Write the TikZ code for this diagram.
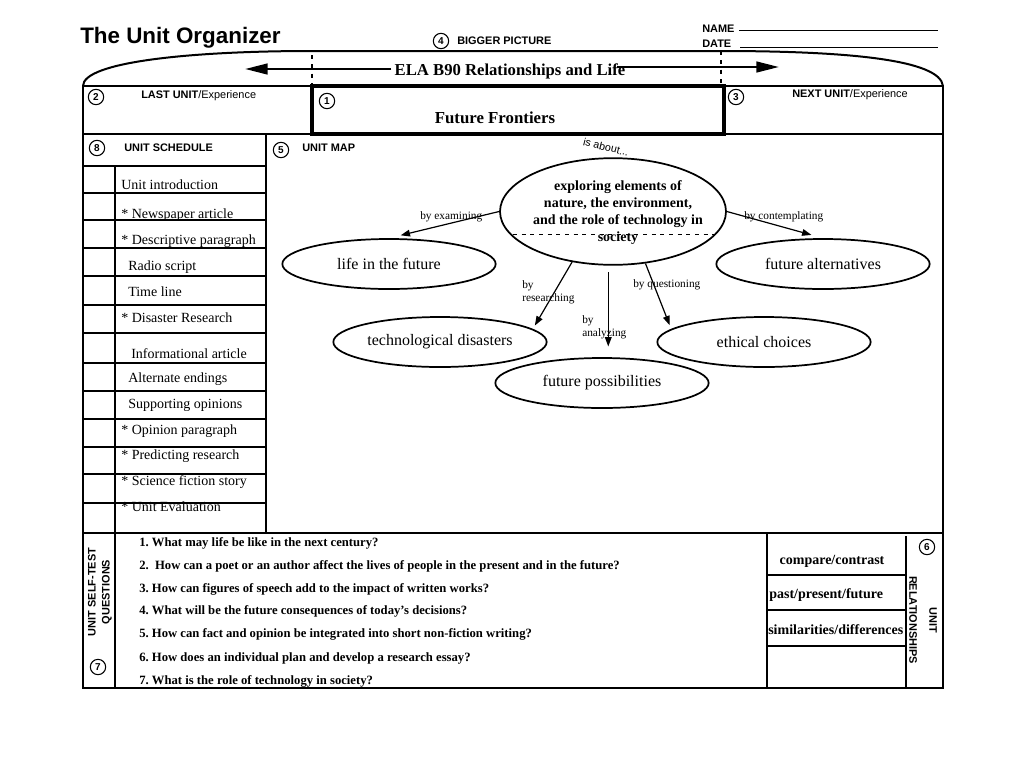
\documentclass[tikz,border=0pt]{standalone}
\usepackage{fontspec}
\setmainfont{Liberation Serif}
\setsansfont{Liberation Sans}
\usetikzlibrary{shapes.geometric,arrows.meta,positioning}
\frenchspacing

\tikzset{frame/.style={line width=1.5pt}}
\tikzset{rule/.style={line width=1.1pt}}
\tikzset{num/.style={draw, circle, line width=0.8pt, inner sep=0pt, minimum size=11.5pt, font=\sffamily\bfseries\fontsize{7.5}{8}\selectfont}}
\tikzset{head/.style={anchor=west, inner sep=0pt, font=\sffamily\bfseries\fontsize{8.2}{10}\selectfont}}
\tikzset{sched/.style={anchor=west, inner sep=0pt, font=\fontsize{10.5}{12}\selectfont}}
\tikzset{bubble/.style={draw, ellipse, line width=1.3pt, minimum width=160pt, minimum height=37.5pt, inner sep=0pt, font=\fontsize{12}{14}\selectfont}}
\tikzset{bylabel/.style={anchor=west, inner sep=0pt, align=left, font=\fontsize{8.5}{10}\selectfont}}
\tikzset{arr/.style={line width=0.9pt, -{Triangle[length=7pt,width=5pt]}}}
\tikzset{bigarr/.style={line width=1.8pt, -{Triangle[length=17pt,width=8pt]}}}
\tikzset{quest/.style={anchor=west, inner sep=0pt, font=\bfseries\fontsize{9.5}{11}\selectfont}}
\tikzset{rel/.style={inner sep=0pt, font=\bfseries\fontsize{10.5}{12}\selectfont}}

\begin{document}
\begin{tikzpicture}[x=0.75pt,y=-0.75pt]
  \useasboundingbox (0,0) rectangle (1024,768);
  % header
  \node[anchor=west, inner sep=0pt, font=\sffamily\bfseries\fontsize{16.8}{20}\selectfont] (Title) at (80,38) {The Unit Organizer};
  \node[num] (NumFour) at (441,41) {4};
  \node[head] (Bigger) at (457,41) {BIGGER PICTURE};
  \node[head] (Name) at (702,29) {NAME};
  \node[head] (Date) at (702,44) {DATE};
  \draw[line width=0.7pt] (739,30) -- (938,30);
  \draw[line width=0.7pt] (740,47) -- (938,47);

  % frame
  \draw[frame] (83,86) .. controls (83,62) and (190,51) .. (312,51) -- (720,51) .. controls (850,51) and (940,60) .. (943,86);
  \draw[frame] (83,86) rectangle (943,688);
  \draw[frame] (83,134) -- (943,134);
  \draw[frame] (266,134) -- (266,533);
  \draw[frame] (83,533) -- (943,533);
  \draw[line width=0.8pt, dash pattern=on 3pt off 4pt] (312,55) -- (312,86);
  \draw[line width=0.8pt, dash pattern=on 3pt off 4pt] (721,51) -- (721,86);
  \draw[line width=3pt] (312,86) rectangle (724,134);

  % bigger picture
  \node[inner sep=0pt, font=\bfseries\fontsize{12.5}{14}\selectfont] (Course) at (510,71) {ELA B90 Relationships and Life};
  \coordinate (LastTip) at (245,69);
  \coordinate (NextTip) at (779,67);
  \draw[bigarr] ([shift={(-3,-2)}]Course.west) -- (LastTip);
  \draw[bigarr] ([shift={(-9,-4)}]Course.east) -- (NextTip);

  \node[num] (NumTwo) at (96,97) {2};
  \node[head] (LastUnit) at (141,96) {LAST UNIT\mdseries/Experience};
  \node[num] (NumThree) at (736,97) {3};
  \node[head] (NextUnit) at (792,95) {NEXT UNIT\mdseries/Experience};
  \node[num] (NumOne) at (327,101) {1};
  \node[inner sep=0pt, font=\bfseries\fontsize{12.6}{14}\selectfont] (Current) at (495,118) {Future Frontiers};

  % schedule
  \node[num] (NumEight) at (97,148) {8};
  \node[head] (Schedule) at (124,148) {UNIT SCHEDULE};
  \foreach \y in {166,193,220,248,276,305,333,363,391,419,447,474,503}
    \draw[rule] (83,\y) -- (266,\y);
  \draw[rule] (115,166) -- (115,533);
  \node[sched] (S1) at (121,185) {Unit introduction};
  \node[sched] (S2) at (121,215) {* Newspaper article};
  \node[sched] (S3) at (121,241) {* Descriptive paragraph};
  \node[sched] (S4) at (128,267) {Radio script};
  \node[sched] (S5) at (128,292) {Time line};
  \node[sched] (S6) at (121,318) {* Disaster Research};
  \node[sched] (S7) at (131,354) {Informational article};
  \node[sched] (S8) at (128,379) {Alternate endings};
  \node[sched] (S9) at (128,405) {Supporting opinions};
  \node[sched] (S10) at (121,431) {* Opinion paragraph};
  \node[sched] (S11) at (121,456) {* Predicting research};
  \node[sched] (S12) at (121,482) {* Science fiction story};
  \node[sched] (S13) at (121,507) {* Unit Evaluation};

  % unit map
  \node[num] (NumFive) at (281,150) {5};
  \node[head] (UnitMap) at (302,148) {UNIT MAP};
  \node[rotate=-14, inner sep=0pt, font=\sffamily\fontsize{8}{9}\selectfont] (About) at (606,147) {is about...};
  \node[draw, ellipse, line width=1.3pt, minimum width=169.5pt, minimum height=80pt] (Core) at (613,211.5) {};
  \node[align=center, inner sep=0pt, font=\bfseries\fontsize{10.5}{12.75}\selectfont] (CoreText) at (618,213) {exploring elements of\\nature, the environment,\\and the role of technology in\\society};
  \draw[line width=0.7pt, dash pattern=on 3pt off 3.5pt] (513,234) -- (718,234);

  \node[bubble] (LifeFuture) at (389,264) {life in the future};
  \node[bubble] (Alternatives) at (823,264) {future alternatives};
  \node[bubble] (Disasters) at (440,342) {technological disasters};
  \node[bubble] (Ethical) at (764,342) {ethical choices};
  \node[bubble] (Possibilities) at (602,383) {future possibilities};

  \draw[arr, shorten >=9pt] (Core.west) -- (LifeFuture.north);
  \draw[arr, shorten >=9pt] (Core.east) -- (Alternatives.north);
  \draw[arr, shorten >=3pt] (Core.231) -- (Disasters.8);
  \draw[arr, shorten <=5pt, shorten >=8pt] (Core.265) -- (Core.265 |- Possibilities.north);
  \draw[arr, shorten >=3pt] (Core.302) -- (Ethical.172);

  \node[bylabel] (ByExamining) at (420,217) {by examining};
  \node[bylabel] (ByContemplating) at (744,217) {by contemplating};
  \node[bylabel] (ByResearching) at (522,292) {by\\researching};
  \node[bylabel] (ByAnalyzing) at (582,327) {by\\analyzing};
  \node[bylabel] (ByQuestioning) at (633,285) {by questioning};

  % self-test questions
  \draw[rule] (115,533) -- (115,688);
  \node[rotate=90, inner sep=0pt, align=center, font=\sffamily\bfseries\fontsize{8.2}{10.5}\selectfont] (SelfTest) at (100,592) {UNIT SELF-TEST\\QUESTIONS};
  \node[num] (NumSeven) at (98,667) {7};
  \node[quest] (Q1) at (139,543) {1. What may life be like in the next century?};
  \node[quest] (Q2) at (139,566) {2.\ \ How can a poet or an author affect the lives of people in the present and in the future?};
  \node[quest] (Q3) at (139,589) {3. How can figures of speech add to the impact of written works?};
  \node[quest] (Q4) at (139,611) {4. What will be the future consequences of today’s decisions?};
  \node[quest] (Q5) at (139,634) {5. How can fact and opinion be integrated into short non-fiction writing?};
  \node[quest] (Q6) at (139,658) {6. How does an individual plan and develop a research essay?};
  \node[quest] (Q7) at (139,681) {7. What is the role of technology in society?};

  % unit relationships
  \draw[rule] (767,533) -- (767,688);
  \draw[rule] (906,536) -- (906,688);
  \foreach \y in {575,610,646}
    \draw[rule] (767,\y) -- (906,\y);
  \node[rel] (R1) at (832,561) {compare/contrast};
  \node[rel, anchor=west] (R2) at (769,595) {past/present/future};
  \node[rel, anchor=west] (R3) at (768,630) {similarities/differences};
  \node[num] (NumSix) at (927,547) {6};
  \node[rotate=-90, inner sep=0pt, align=center, font=\sffamily\bfseries\fontsize{8.2}{15}\selectfont] (Relations) at (923,620) {UNIT\\RELATIONSHIPS};
\end{tikzpicture}
\end{document}
